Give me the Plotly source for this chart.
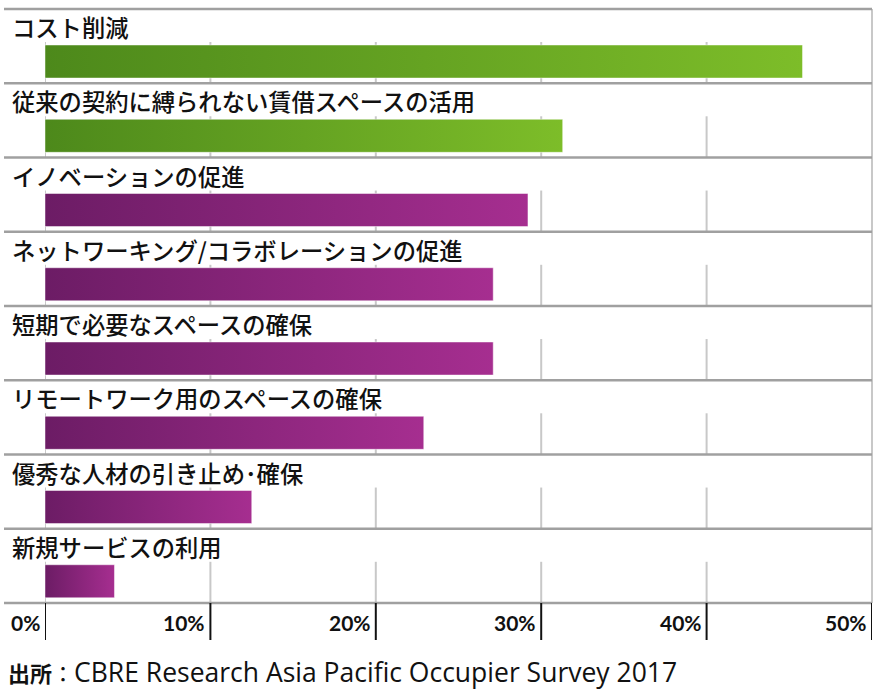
import plotly.graph_objects as go

categories = [
    "コスト削減",
    "従来の契約に縛られない賃借スペースの活用",
    "イノベーションの促進",
    "ネットワーキング/コラボレーションの促進",
    "短期で必要なスペースの確保",
    "リモートワーク用のスペースの確保",
    "優秀な人材の引き止め･確保",
    "新規サービスの利用",
]
values = [45.8, 31.3, 29.2, 27.1, 27.1, 22.9, 12.5, 4.2]
groups = ["green", "green", "purple", "purple", "purple", "purple", "purple", "purple"]
tick_values = [0, 10, 20, 30, 40, 50]
tick_labels = ["0%", "10%", "20%", "30%", "40%", "50%"]
source_label = "出所"
source_body = "CBRE Research Asia Pacific Occupier Survey 2017"

palette = {
    "green": ("#4d891b", "#7dbd29"),
    "purple": ("#6c1c65", "#a62e90"),
}

W, H = 880, 689
ML, MR, MT, MB = 45, 8, 9, 86
plot_w = W - ML - MR
plot_h = H - MT - MB
n = len(categories)

BAR_TOP, BAR_BOT = 0.485, 0.93
LABEL_Y = 0.245
GRID_TOP = 0.445

fig = go.Figure()

for i, (cat, v, g) in enumerate(zip(categories, values, groups)):
    dark, light = palette[g]
    y0, y1 = i + BAR_TOP, i + BAR_BOT
    fig.add_trace(go.Scatter(
        x=[0, v, v, 0, 0],
        y=[y0, y0, y1, y1, y0],
        mode="lines",
        fill="toself",
        fillgradient=dict(type="horizontal", colorscale=[[0, dark], [1, light]]),
        line=dict(width=0.8, color="rgba(255,255,255,0.6)"),
        hoverinfo="skip",
        showlegend=False,
    ))

shapes = []
for i in range(n):
    for t in tick_values[:-1]:
        shapes.append(dict(type="line", xref="x", yref="y", x0=t, x1=t,
                           y0=i + GRID_TOP, y1=i + 1,
                           line=dict(color="#c8c8c8", width=2), layer="below"))
shapes.append(dict(type="line", xref="paper", yref="paper", x0=1, x1=1, y0=0, y1=1,
                   line=dict(color="#c8c8c8", width=2), layer="below"))
x_left = (4 - ML) / plot_w
for k in range(n + 1):
    yp = 1 - k / n
    shapes.append(dict(type="line", xref="paper", yref="paper", x0=x_left, x1=1,
                       y0=yp, y1=yp, line=dict(color="#a0a0a0", width=2.5), layer="above"))
tick_bottom = -(640 - 603) / plot_h
for t in tick_values:
    shapes.append(dict(type="line", xref="x", yref="paper", x0=t, x1=t,
                       y0=0, y1=tick_bottom, line=dict(color="#111111", width=2)))

annotations = []
label_x = (10 - ML) / plot_w
for i, cat in enumerate(categories):
    annotations.append(dict(text=cat, xref="paper", yref="y", x=label_x, y=i + LABEL_Y,
                            xanchor="left", yanchor="middle", showarrow=False,
                            font=dict(family="Noto Sans CJK JP Medium, Noto Sans CJK JP",
                                      size=23.3, color="#111111", weight=500)))
tick_y = -(622 - 603) / plot_h
for t, lab in zip(tick_values, tick_labels):
    annotations.append(dict(text=f"<b>{lab}</b>", xref="x", yref="paper", x=t, y=tick_y,
                            xanchor="right", yanchor="middle", xshift=-3, showarrow=False,
                            font=dict(family="Lato", size=21, color="#111111")))
source_text = (f'<span style="font-size:22px"><b>{source_label}</b>：</span>'
               f'{source_body}')
annotations.append(dict(text=source_text, xref="paper", yref="paper",
                        x=(6 - ML) / plot_w, y=-(672 - 603) / plot_h,
                        xanchor="left", yanchor="middle", showarrow=False,
                        font=dict(family="Open Sans, Noto Sans CJK JP", size=26.5, color="#111111")))

fig.update_layout(
    width=W, height=H,
    margin=dict(l=ML, r=MR, t=MT, b=MB),
    paper_bgcolor="white", plot_bgcolor="white",
    xaxis=dict(range=[0, 50], visible=False, fixedrange=True),
    yaxis=dict(range=[n, 0], visible=False, fixedrange=True),
    shapes=shapes,
    annotations=annotations,
    showlegend=False,
)

fig.write_html("out.html")
